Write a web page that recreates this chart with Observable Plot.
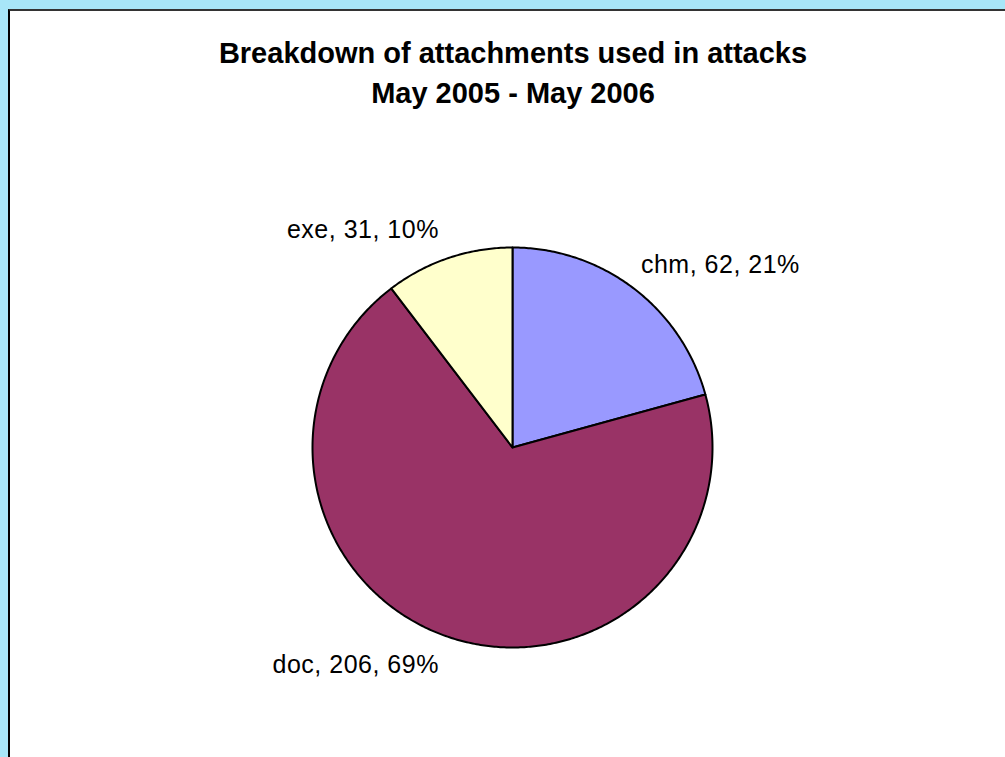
<!DOCTYPE html>
<html>
<head>
<meta charset="utf-8">
<script src="https://cdn.jsdelivr.net/npm/d3@7"></script>
<script src="https://cdn.jsdelivr.net/npm/@observablehq/plot@0.6"></script>
<style>
  html, body { margin: 0; padding: 0; width: 1005px; height: 757px; overflow: hidden; background: #a8e6f8; }
  #box { position: absolute; left: 8px; top: 9px; width: 1100px; height: 900px; border: 2px solid #000; border-top-color: #333; background: #fff; }
  #title { position: absolute; left: 0; top: 0; width: 1026px; text-align: center; font-family: "Liberation Sans", Arial, sans-serif; font-weight: bold; font-size: 29px; color: #000; }
  #title div { position: absolute; width: 100%; }
  #chart { position: absolute; left: 0; top: 0; }
</style>
</head>
<body>
<div id="box"></div>
<div id="title"><div style="top:37px">Breakdown of attachments used in attacks</div><div style="top:77px">May 2005 - May 2006</div></div>
<div id="chart"></div>
<script>
const categories = ["chm", "doc", "exe"];
const values = [62, 206, 31];
const colors = ["#9999ff", "#993366", "#ffffcc"];

const W = 1005, H = 757;
const cx = 512, cy = 447, r = 200;
const total = d3.sum(values);

// slice polygons in unit-circle coordinates (angle clockwise from top)
const rows = [];
const labels = [];
let acc = 0;
categories.forEach((c, i) => {
  const a0 = acc / total * 2 * Math.PI;
  acc += values[i];
  const a1 = acc / total * 2 * Math.PI;
  const n = Math.max(2, Math.ceil((a1 - a0) / 0.01));
  rows.push({cat: c, x: 0, y: 0});
  for (let k = 0; k <= n; k++) {
    const a = a0 + (a1 - a0) * k / n;
    rows.push({cat: c, x: Math.sin(a), y: Math.cos(a)});
  }
  rows.push({cat: c, x: 0, y: 0});
  const am = (a0 + a1) / 2;
  const lr = 1.15;
  labels.push({
    cat: c,
    x: lr * Math.sin(am),
    y: lr * Math.cos(am),
    anchor: Math.sin(am) >= 0 ? "start" : "end",
    text: `${c}, ${values[i]}, ${Math.round(values[i] / total * 100)}%`
  });
});

const textStyle = {fontSize: 25, fontFamily: "Liberation Sans, Arial, sans-serif", fill: "#000"};

const chart = Plot.plot({
  width: W,
  height: H,
  margin: 0,
  style: {background: "transparent", overflow: "visible"},
  x: {domain: [-cx / r, (W - cx) / r], range: [0, W], axis: null},
  y: {domain: [-(H - cy) / r, cy / r], range: [H, 0], axis: null},
  color: {domain: categories, range: colors},
  marks: [
    Plot.line(rows, {x: "x", y: "y", z: "cat", fill: "cat", stroke: "#000", strokeWidth: 2, strokeLinejoin: "round", curve: "linear"}),
    Plot.text(labels.filter(d => d.anchor === "start"), {x: "x", y: "y", text: "text", textAnchor: "start", dx: -11, ...textStyle}),
    Plot.text(labels.filter(d => d.anchor === "end"), {x: "x", y: "y", text: "text", textAnchor: "end", ...textStyle})
  ]
});
chart.querySelectorAll("text").forEach(t => t.style.letterSpacing = "0.5px");
document.getElementById("chart").appendChild(chart);
</script>
</body>
</html>
